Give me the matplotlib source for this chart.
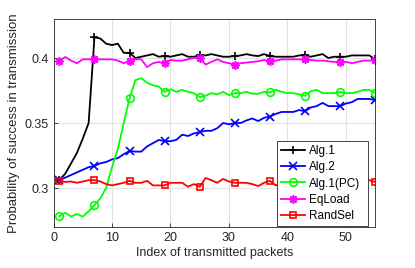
import numpy as np
import matplotlib
matplotlib.use("Agg")
import matplotlib.pyplot as plt

plt.rcParams['font.family'] = ['Liberation Sans', 'DejaVu Sans']

packets = list(range(1, 56))

alg1 = [0.306, 0.311, 0.319, 0.327, 0.338, 0.350, 0.416, 0.415, 0.411, 0.410,
        0.411, 0.404, 0.404, 0.400, 0.401, 0.402, 0.403, 0.401, 0.4015, 0.401,
        0.402, 0.403, 0.401, 0.401, 0.402, 0.402, 0.403, 0.402, 0.401, 0.401,
        0.4015, 0.402, 0.403, 0.402, 0.4015, 0.403, 0.4015, 0.401, 0.401, 0.401,
        0.401, 0.402, 0.402, 0.401, 0.402, 0.403, 0.400, 0.401, 0.401, 0.401,
        0.402, 0.402, 0.402, 0.402, 0.399]

alg2 = [0.306, 0.308, 0.310, 0.312, 0.314, 0.316, 0.317, 0.319, 0.320, 0.322,
        0.323, 0.326, 0.3285, 0.328, 0.328, 0.332, 0.3345, 0.337, 0.336, 0.336,
        0.337, 0.341, 0.340, 0.342, 0.343, 0.344, 0.344, 0.346, 0.350, 0.349,
        0.350, 0.350, 0.352, 0.3535, 0.3515, 0.354, 0.355, 0.357, 0.3585, 0.3585,
        0.3585, 0.360, 0.359, 0.362, 0.363, 0.3655, 0.363, 0.363, 0.363, 0.365,
        0.366, 0.3685, 0.3685, 0.3685, 0.3677]

alg1_pc = [0.2785, 0.281, 0.278, 0.280, 0.278, 0.282, 0.287, 0.292, 0.300, 0.316,
           0.330, 0.350, 0.369, 0.383, 0.3845, 0.381, 0.379, 0.378, 0.374, 0.376,
           0.374, 0.3755, 0.374, 0.373, 0.370, 0.371, 0.373, 0.372, 0.374, 0.3715,
           0.373, 0.373, 0.374, 0.3725, 0.3725, 0.374, 0.3736, 0.3755, 0.374, 0.373,
           0.373, 0.372, 0.371, 0.3745, 0.3755, 0.373, 0.373, 0.373, 0.374, 0.373,
           0.373, 0.374, 0.3755, 0.3755, 0.373]

eqload = [0.3977, 0.4008, 0.398, 0.396, 0.399, 0.399, 0.3992, 0.399, 0.399, 0.399,
          0.398, 0.396, 0.3977, 0.399, 0.399, 0.393, 0.396, 0.397, 0.396, 0.3985,
          0.398, 0.398, 0.399, 0.400, 0.400, 0.395, 0.397, 0.399, 0.397, 0.396,
          0.3946, 0.396, 0.3965, 0.397, 0.3975, 0.3985, 0.3977, 0.398, 0.399, 0.399,
          0.399, 0.399, 0.399, 0.3985, 0.398, 0.398, 0.3975, 0.397, 0.397, 0.397,
          0.396, 0.397, 0.398, 0.398, 0.3985]

randsel = [0.3055, 0.3047, 0.305, 0.304, 0.305, 0.306, 0.306, 0.305, 0.303, 0.302,
           0.303, 0.304, 0.3055, 0.304, 0.304, 0.3055, 0.302, 0.302, 0.302, 0.304,
           0.304, 0.304, 0.301, 0.303, 0.301, 0.3077, 0.306, 0.304, 0.307, 0.305,
           0.304, 0.304, 0.304, 0.303, 0.3015, 0.304, 0.3055, 0.302, 0.304, 0.305,
           0.303, 0.304, 0.305, 0.303, 0.304, 0.305, 0.304, 0.303, 0.304, 0.305,
           0.304, 0.303, 0.305, 0.306, 0.3046]

labels = ['Alg.1', 'Alg.2', 'Alg.1(PC)', 'EqLoad', 'RandSel']
xticks = [0, 10, 20, 30, 40, 50]
yticks = [0.3, 0.35, 0.4]
ytick_labels = ['0.3', '0.35', '0.4']

fig = plt.figure(figsize=(4.15, 2.68), dpi=100)
ax = fig.add_axes([0.129, 0.153, 0.775, 0.776])

me = slice(0, None, 6)
lw = 1.3
ms = 5.5
ax.plot(packets, alg1, color='black', marker='+', markevery=me, lw=lw, ms=ms + 0.5, mew=1.2, label=labels[0])
ax.plot(packets, alg2, color='blue', marker='x', markevery=me, lw=lw, ms=ms, mew=1.2, label=labels[1])
ax.plot(packets, alg1_pc, color='#00ff00', marker='o', markevery=me, lw=lw, ms=ms, mew=1.2,
        markerfacecolor='none', label=labels[2])
ax.plot(packets, eqload, color='magenta', marker=(8, 2, 0), markevery=me, lw=lw, ms=ms + 0.5, mew=1.2,
        label=labels[3])
ax.plot(packets, randsel, color='red', marker='s', markevery=me, lw=lw, ms=ms - 0.5, mew=1.2,
        markerfacecolor='none', label=labels[4])

ax.set_xlim(0, 55)
ax.set_ylim(0.27, 0.43)
ax.set_xticks(xticks)
ax.set_yticks(yticks)
ax.set_yticklabels(ytick_labels)
ax.grid(True, color='#e3e3e3', lw=0.8)
ax.set_axisbelow(True)
ax.tick_params(direction='in', length=3, labelsize=9, colors='#262626', width=0.6)
for s in ax.spines.values():
    s.set_color('#262626')
    s.set_linewidth(0.6)

ax.set_xlabel('Index of transmitted packets', fontsize=9, color='#262626', labelpad=2)
ax.set_ylabel('Probability of success in transmission', fontsize=9.5, color='#262626', labelpad=3)

leg = fig.legend(loc='lower left', bbox_to_anchor=(0.667, 0.157, 0.22, 0.317), mode='expand',
                 fontsize=8.5, frameon=True, fancybox=False, borderaxespad=0,
                 handlelength=2.0, handletextpad=0.4, labelspacing=0.35, borderpad=0.35)
leg.get_frame().set_edgecolor('#262626')
leg.get_frame().set_linewidth(0.6)
leg.get_frame().set_alpha(1)

fig.savefig('out.png', dpi=100)
